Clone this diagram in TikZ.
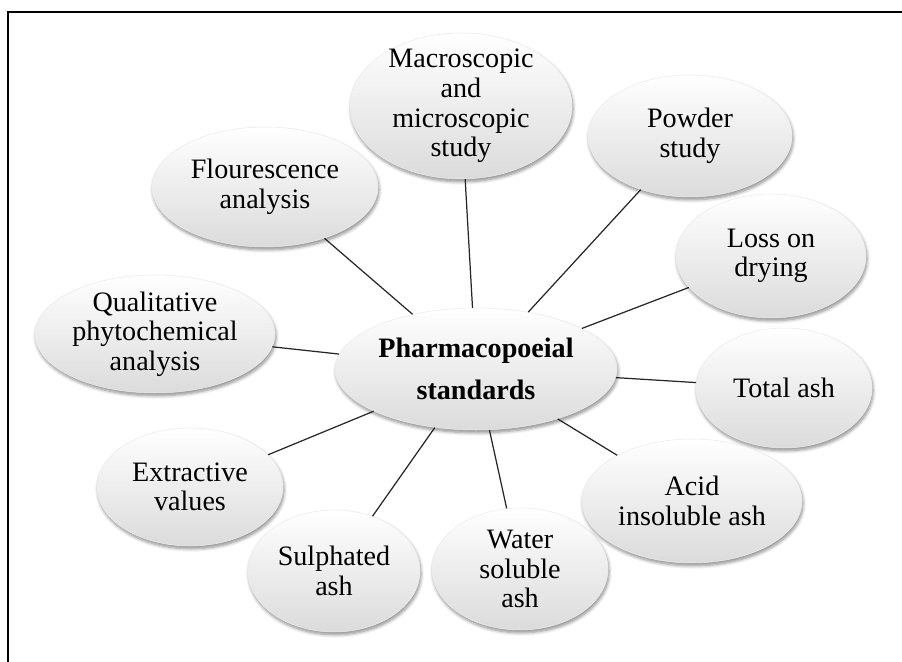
\documentclass[tikz,border=0pt]{standalone}
\usepackage{fontspec}
\setmainfont{Liberation Serif}
\usetikzlibrary{shapes.geometric,shadows.blur}

\begin{document}
\begin{tikzpicture}[x=0.02cm, y=-0.02cm,
  bub/.style = {ellipse, draw=gray!15, line width=0.3pt, top color=white, middle color=white, bottom color=gray!28,
                blur shadow={shadow xshift=0.6pt, shadow yshift=-1.6pt, shadow blur steps=6, shadow opacity=45}},
  txt/.style = {font=\fontsize{16}{16.8}\selectfont, align=center},
  link/.style = {draw=black!85, line width=0.7pt}]
\useasboundingbox (0,0) rectangle (902,662);
\draw[line width=1.7pt] (8,670) -- (8,12) -- (910,12);

\node[bub, minimum width=4.52cm, minimum height=2.4cm, label={[txt]center:Flourescence\\analysis}] (flour) at (265,187) {};
\node[bub, minimum width=4.44cm, minimum height=2.92cm, label={[txt]center:Macroscopic\\and\\microscopic\\study}] (macro) at (461,106) {};
\node[bub, minimum width=4.08cm, minimum height=2.44cm, label={[txt]center:Powder\\study}] (powder) at (690,136) {};
\node[bub, minimum width=3.8cm, minimum height=2.48cm, label={[txt]center:Loss on\\drying}] (loss) at (771,256) {};
\node[bub, minimum width=3.52cm, minimum height=2.4cm, label={[txt]center:Total ash}] (total) at (784,388) {};
\node[bub, minimum width=4.4cm, minimum height=2.48cm, label={[txt]center:Acid\\insoluble ash}] (acid) at (692,501) {};
\node[bub, minimum width=3.52cm, minimum height=2.44cm, label={[txt]center:Water\\soluble\\ash}] (water) at (520,569) {};
\node[bub, minimum width=3.44cm, minimum height=2.44cm, label={[txt]center:Sulphated\\ash}] (sulph) at (334,571) {};
\node[bub, minimum width=3.72cm, minimum height=2.36cm, label={[txt]center:Extractive\\values}] (extract) at (190,487) {};
\node[bub, minimum width=4.8cm, minimum height=2.36cm, label={[txt]center:Qualitative\\phytochemical\\analysis}] (qual) at (155,334) {};
\node[bub, minimum width=5.64cm, minimum height=2.44cm,
      label={[txt, font=\fontsize{16}{24}\selectfont\bfseries]center:Pharmacopoeial\\standards}] (pharma) at (476,369) {};

\foreach \n in {flour,macro,powder,loss,total,acid,water,sulph,extract,qual}
  \draw[link] (pharma) -- (\n);
\end{tikzpicture}
\end{document}
